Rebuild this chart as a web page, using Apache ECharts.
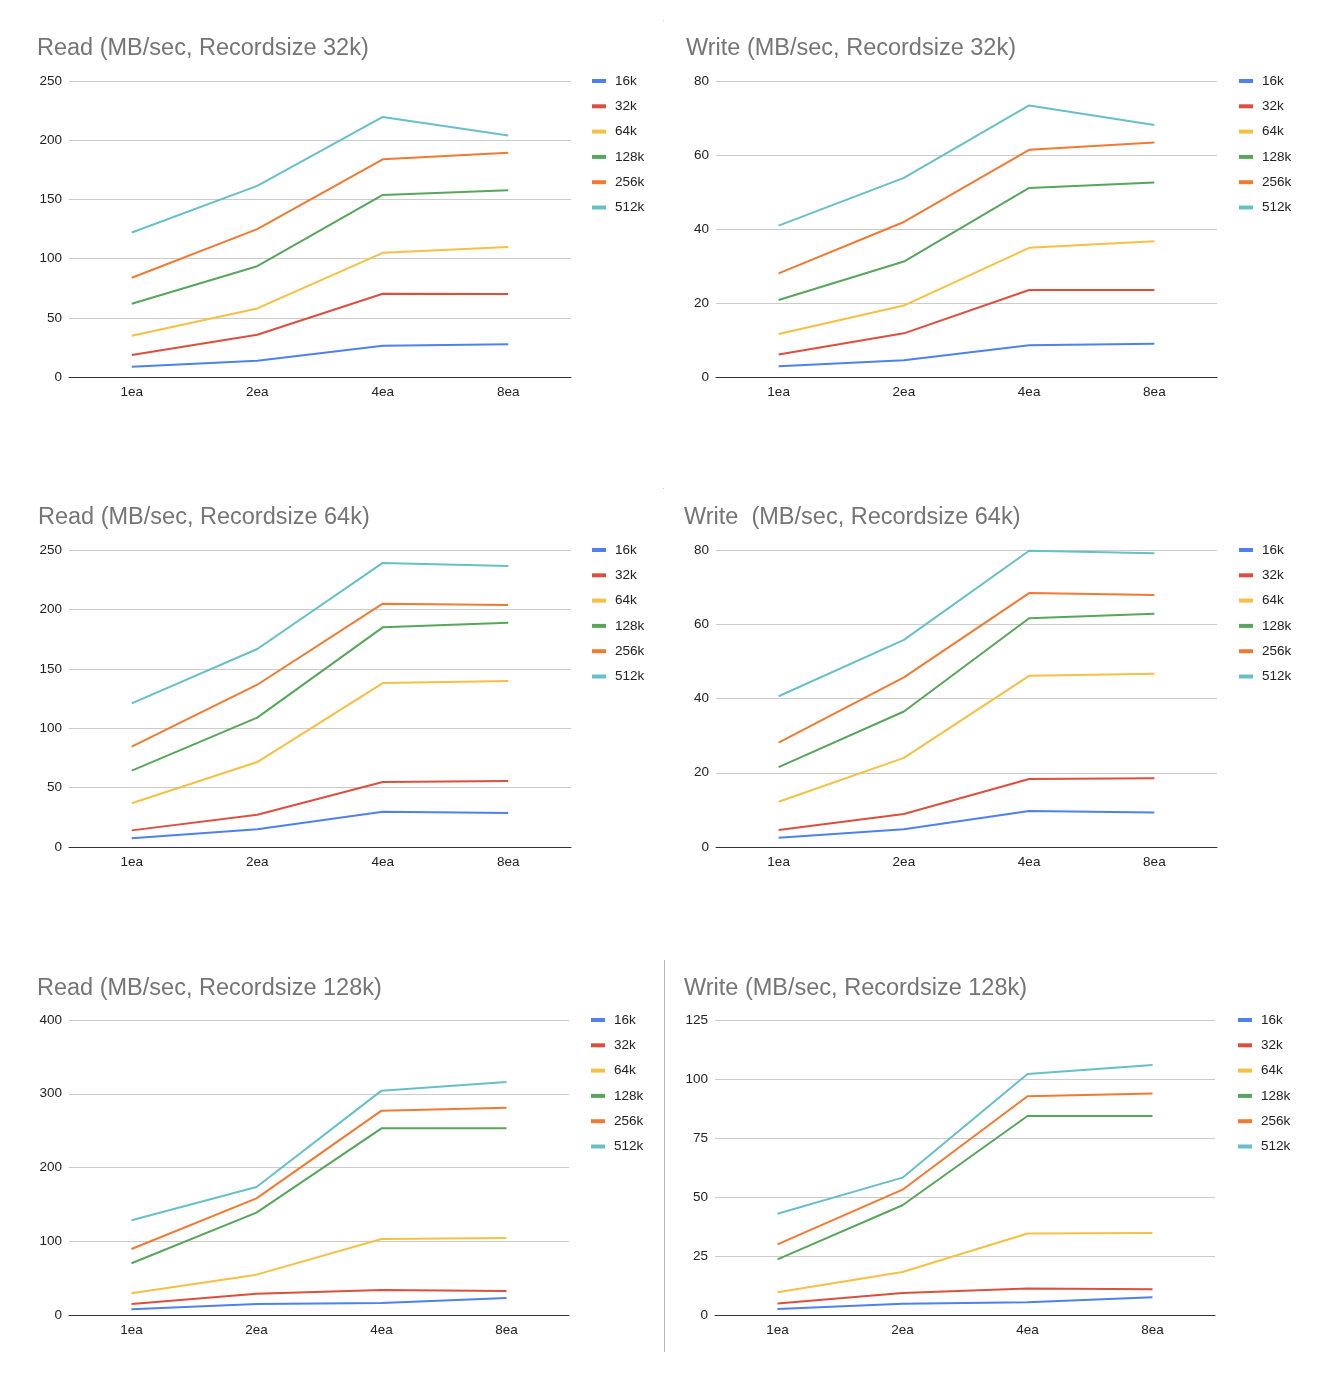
<!DOCTYPE html>
<html>
<head>
<meta charset="utf-8">
<script src="https://cdn.jsdelivr.net/npm/echarts@6/dist/echarts.min.js"></script>
<style>
html,body{margin:0;padding:0;background:#fff;}
#main{width:1344px;height:1394px;}
</style>
</head>
<body>
<div id="main"></div>
<script>
// ---- data ----
const categories = ['1ea', '2ea', '4ea', '8ea'];
const seriesNames = ['16k', '32k', '64k', '128k', '256k', '512k'];
const colors = ['#4f81ee', '#dc4f3e', '#f5c043', '#57a65b', '#f17a32', '#67c0c8'];

const chartTitles = [
  'Read (MB/sec, Recordsize 32k)',
  'Write (MB/sec, Recordsize 32k)',
  'Read (MB/sec, Recordsize 64k)',
  'Write  (MB/sec, Recordsize 64k)',
  'Read (MB/sec, Recordsize 128k)',
  'Write (MB/sec, Recordsize 128k)'
];

// each row: 16k, 32k, 64k, 128k, 256k, 512k ; columns: 1ea, 2ea, 4ea, 8ea
const read32k = [
  [8.7, 13.8, 26.4, 27.6],
  [18.6, 35.7, 70.3, 70.0],
  [34.9, 57.9, 104.9, 109.7],
  [61.9, 93.6, 153.8, 157.8],
  [83.8, 124.9, 183.9, 189.5],
  [122.0, 161.4, 219.6, 203.9]
];
const write32k = [
  [2.9, 4.5, 8.6, 9.0],
  [6.1, 11.8, 23.5, 23.5],
  [11.6, 19.3, 34.9, 36.7],
  [20.8, 31.2, 51.1, 52.6],
  [28.0, 41.9, 61.4, 63.4],
  [40.9, 53.8, 73.4, 68.1]
];
const read64k = [
  [7.3, 14.9, 29.7, 28.6],
  [14.0, 27.2, 54.7, 55.6],
  [36.8, 71.5, 138.0, 139.7],
  [64.3, 108.9, 184.9, 188.8],
  [84.5, 136.6, 204.8, 203.7],
  [120.9, 166.7, 239.1, 236.5]
];
const write64k = [
  [2.5, 4.8, 9.7, 9.3],
  [4.6, 8.9, 18.3, 18.5],
  [12.2, 24.0, 46.1, 46.7],
  [21.5, 36.5, 61.6, 62.8],
  [28.1, 45.7, 68.4, 67.9],
  [40.6, 55.8, 79.8, 79.1]
];
const read128k = [
  [7.7, 14.9, 16.3, 23.1],
  [14.9, 28.9, 33.9, 32.5],
  [29.4, 54.7, 103.1, 104.4],
  [70.1, 138.8, 253.1, 253.1],
  [89.5, 158.2, 277.1, 281.1],
  [128.4, 173.6, 304.2, 315.9]
];
const write128k = [
  [2.5, 4.8, 5.4, 7.5],
  [4.9, 9.3, 11.2, 10.9],
  [9.6, 18.2, 34.5, 34.7],
  [23.6, 46.5, 84.3, 84.3],
  [29.9, 53.1, 92.7, 93.9],
  [42.9, 58.2, 102.1, 105.9]
];
const yMax = [250, 80, 250, 80, 400, 125];
const yInterval = [50, 20, 50, 20, 100, 25];

// ---- layout ----
const panelData = [read32k, write32k, read64k, write64k, read128k, write128k];
const grids = [
  {left: 69, top: 81, width: 502, height: 296},
  {left: 716, top: 81, width: 501, height: 296},
  {left: 69, top: 550, width: 502, height: 297},
  {left: 716, top: 550, width: 501, height: 297},
  {left: 69, top: 1020, width: 500, height: 295},
  {left: 715, top: 1020, width: 500, height: 295}
];
const titlePos = [
  {left: 37, top: 36}, {left: 686, top: 36},
  {left: 38, top: 505}, {left: 684, top: 505},
  {left: 37, top: 976}, {left: 684, top: 976}
];
const legendPos = [
  {left: 592, top: 73.5}, {left: 1239, top: 73.5},
  {left: 592, top: 542.5}, {left: 1239, top: 542.5},
  {left: 591, top: 1012.5}, {left: 1238, top: 1012.5}
];

const FONT = '"Liberation Sans", Arial, sans-serif';
const option = {
  animation: false,
  backgroundColor: '#ffffff',
  title: [], legend: [], grid: [], xAxis: [], yAxis: [], series: [],
  graphic: [
    {type: 'line', shape: {x1: 664.5, y1: 960, x2: 664.5, y2: 1352}, style: {stroke: '#b5b5b5', lineWidth: 1}},
    {type: 'rect', shape: {x: 663, y: 20, width: 1, height: 1}, style: {fill: '#d0d0d0'}},
    {type: 'rect', shape: {x: 663, y: 488, width: 1, height: 1}, style: {fill: '#d0d0d0'}}
  ]
};

for (let i = 0; i < 6; i++) {
  option.title.push({
    text: chartTitles[i], left: titlePos[i].left, top: titlePos[i].top, padding: 0,
    textStyle: {fontFamily: FONT, fontSize: 23.5, fontWeight: 'normal', color: '#757575', lineHeight: 26}
  });
  option.legend.push({
    orient: 'vertical', left: legendPos[i].left, top: legendPos[i].top, padding: 0,
    data: seriesNames, icon: 'rect', itemWidth: 14, itemHeight: 4, itemGap: 10.3,
    textStyle: {fontFamily: FONT, fontSize: 13.5, color: '#222', lineHeight: 15, padding: [0, 0, 0, 4]},
    selectedMode: false
  });
  option.grid.push(Object.assign({containLabel: false}, grids[i]));
  option.xAxis.push({
    type: 'category', gridIndex: i, data: categories, boundaryGap: true,
    axisLine: {show: true, lineStyle: {color: '#333', width: 1}},
    axisTick: {show: false},
    axisLabel: {fontFamily: FONT, fontSize: 13.5, color: '#222', margin: 8},
    splitLine: {show: false}
  });
  option.yAxis.push({
    type: 'value', gridIndex: i, min: 0, max: yMax[i], interval: yInterval[i],
    axisLine: {show: false}, axisTick: {show: false},
    axisLabel: {fontFamily: FONT, fontSize: 13.5, color: '#222', margin: 7},
    splitLine: {show: true, lineStyle: {color: '#cccccc', width: 1}}
  });
  for (let s = 0; s < seriesNames.length; s++) {
    option.series.push({
      name: seriesNames[s], type: 'line', xAxisIndex: i, yAxisIndex: i,
      data: panelData[i][s], symbol: 'none', smooth: false,
      color: colors[s], lineStyle: {width: 2, color: colors[s]},
      z: 2 + s
    });
  }
}

const chart = echarts.init(document.getElementById('main'), null, {renderer: 'canvas'});
chart.setOption(option);
</script>
</body>
</html>
